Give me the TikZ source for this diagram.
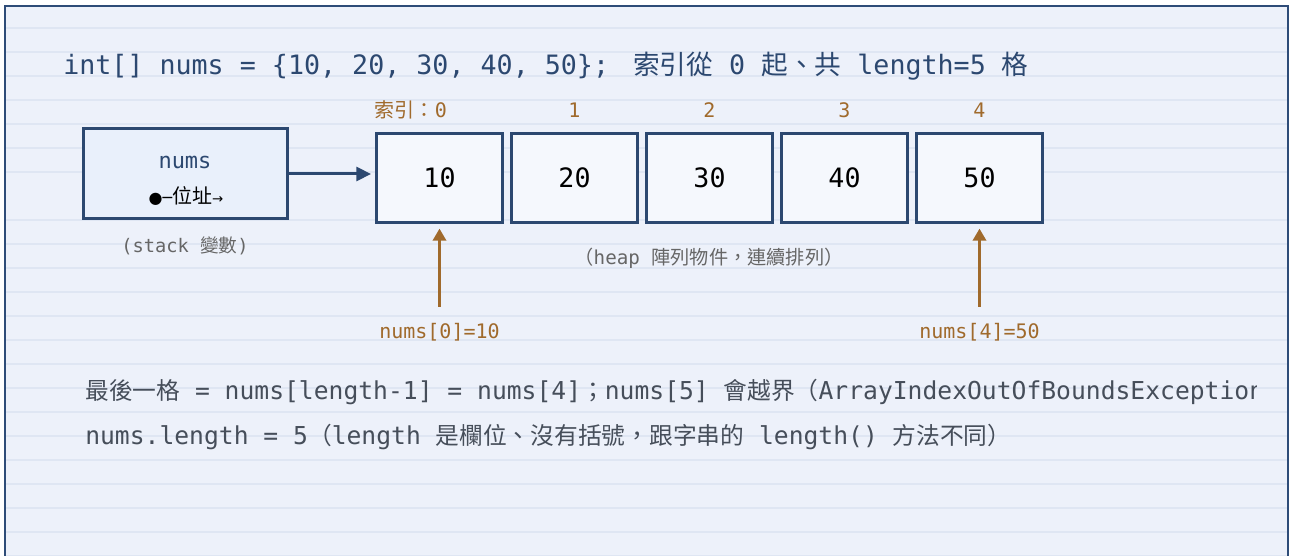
\documentclass[tikz,border=0pt]{standalone}
\usepackage{fontspec}
\setmonofont{DejaVu Sans Mono}
\newfontfamily\cjkfont{Noto Sans CJK TC}
\newfontfamily\symfont{DejaVu Sans}
\usetikzlibrary{arrows.meta}
\definecolor{bg}{HTML}{EDF1FA}
\definecolor{rulec}{HTML}{DFE6F3}
\definecolor{framec}{HTML}{2E4C78}
\definecolor{navy}{HTML}{2C4870}
\definecolor{brownc}{HTML}{A06A2C}
\definecolor{cellfill}{HTML}{F5F8FD}
\definecolor{stackfill}{HTML}{E9F0FB}
\definecolor{greyc}{HTML}{666666}
\definecolor{notec}{HTML}{464E5A}
\newcommand{\C}[1]{{\cjkfont #1}}
\newcommand{\fs}[1]{\fontsize{#1}{#1}\selectfont}
\tikzset{
  cellbox/.style={draw=navy, line width=2.25pt, fill=cellfill, minimum width=94.5pt, minimum height=66.75pt, inner sep=0pt, font=\ttfamily\fs{20}, text=black},
  stackbox/.style={draw=navy, line width=2.25pt, fill=stackfill, minimum width=153pt, minimum height=67.5pt, inner sep=0pt},
  idx/.style={font=\ttfamily\fs{15}, text=brownc, inner sep=0pt},
  ptrlbl/.style={font=\ttfamily\fs{15}, text=brownc, inner sep=2pt},
  captxt/.style={font=\ttfamily\fs{14}, text=greyc, inner sep=0pt},
  notetxt/.style={font=\ttfamily\fs{18.5}, text=notec, inner sep=0pt, anchor=west},
  bluearrow/.style={draw=navy, line width=2.25pt, -{Triangle[length=11pt,width=10.5pt]}},
  brownarrow/.style={draw=brownc, line width=1.8pt, -{Triangle[length=9pt,width=10pt]}}
}
\begin{document}
\begin{tikzpicture}[x=0.75pt,y=-0.75pt]
\useasboundingbox (0,0) rectangle (1290,556);
\begin{scope}
\clip (0,0) rectangle (1290,556);
\fill[white] (0,0) rectangle (1290,556);
\fill[bg] (5,6) rectangle (1288,600);
\foreach \k in {0,...,6,8,9,...,22} \draw[rulec, line width=2pt] (6,28+24*\k) -- (1287,28+24*\k);
\draw[framec, line width=2pt] (5,6) rectangle (1288,600);
\end{scope}

% title
\node[anchor=base west, inner sep=0pt, font=\ttfamily\fs{20}, text=navy] (title) at (63,75)
  {int[] nums = \{10, 20, 30, 40, 50\};\ \hspace{6pt}\C{索引從} 0 \C{起、共} length=5 \C{格}};

% stack variable
\node[stackbox] (stack) at (185,174) {};
\node[font=\ttfamily\fs{16.5}, text=navy, inner sep=0pt] (sname) at (185,162) {nums};
\node[font=\fs{15}, text=black, inner sep=0pt] (saddr) at (186,196) {{\symfont\fs{12}●─}\C{位址}{\symfont\fs{10}→}};
\node[captxt] (stackcap) at (185,246) {(stack \C{變數})};

% array cells
\node[cellbox] (c0) at (439.5,178) {10};
\node[cellbox] (c1) at (574.5,178) {20};
\node[cellbox] (c2) at (709.5,178) {30};
\node[cellbox] (c3) at (844.5,178) {40};
\node[cellbox] (c4) at (979.5,178) {50};

% index labels
\node[idx] (i0) at (411,110) {\C{索引：}0};
\node[idx] (i1) at (574.5,110) {1};
\node[idx] (i2) at (709.5,110) {2};
\node[idx] (i3) at (844.5,110) {3};
\node[idx] (i4) at (979.5,110) {4};

\node[captxt, font=\ttfamily\fs{14.4}] (heapcap) at (709,258) {\C{（}heap \C{陣列物件，連續排列）}};

% pointer from stack to heap
\draw[bluearrow, shorten >=3pt] (stack.east) -- (stack.east -| c0.west);

% element access labels
\node[ptrlbl] (l0) at (439.5,332) {nums[0]=10};
\node[ptrlbl] (l4) at (979.5,332) {nums[4]=50};
\draw[brownarrow, shorten <=10pt, shorten >=3.5pt] (l0.north) -- (c0.south);
\draw[brownarrow, shorten <=10pt, shorten >=3.5pt] (l4.north) -- (c4.south);

% notes
\begin{scope}
\clip (0,0) rectangle (1256,556);
\node[notetxt] (n1) at (85,392) {{\cjkfont\fs{17.8}最後一格} = nums[length-1] = nums[4]{\cjkfont\fs{17.8}；}nums[5] {\cjkfont\fs{17.8}會越界（}ArrayIndexOutOfBoundsException)};
\end{scope}
\node[notetxt] (n2) at (85,437) {nums.length = 5{\cjkfont\fs{17.8}（}length {\cjkfont\fs{17.8}是欄位、沒有括號，跟字串的} length() {\cjkfont\fs{17.8}方法不同）}};
\end{tikzpicture}
\end{document}
